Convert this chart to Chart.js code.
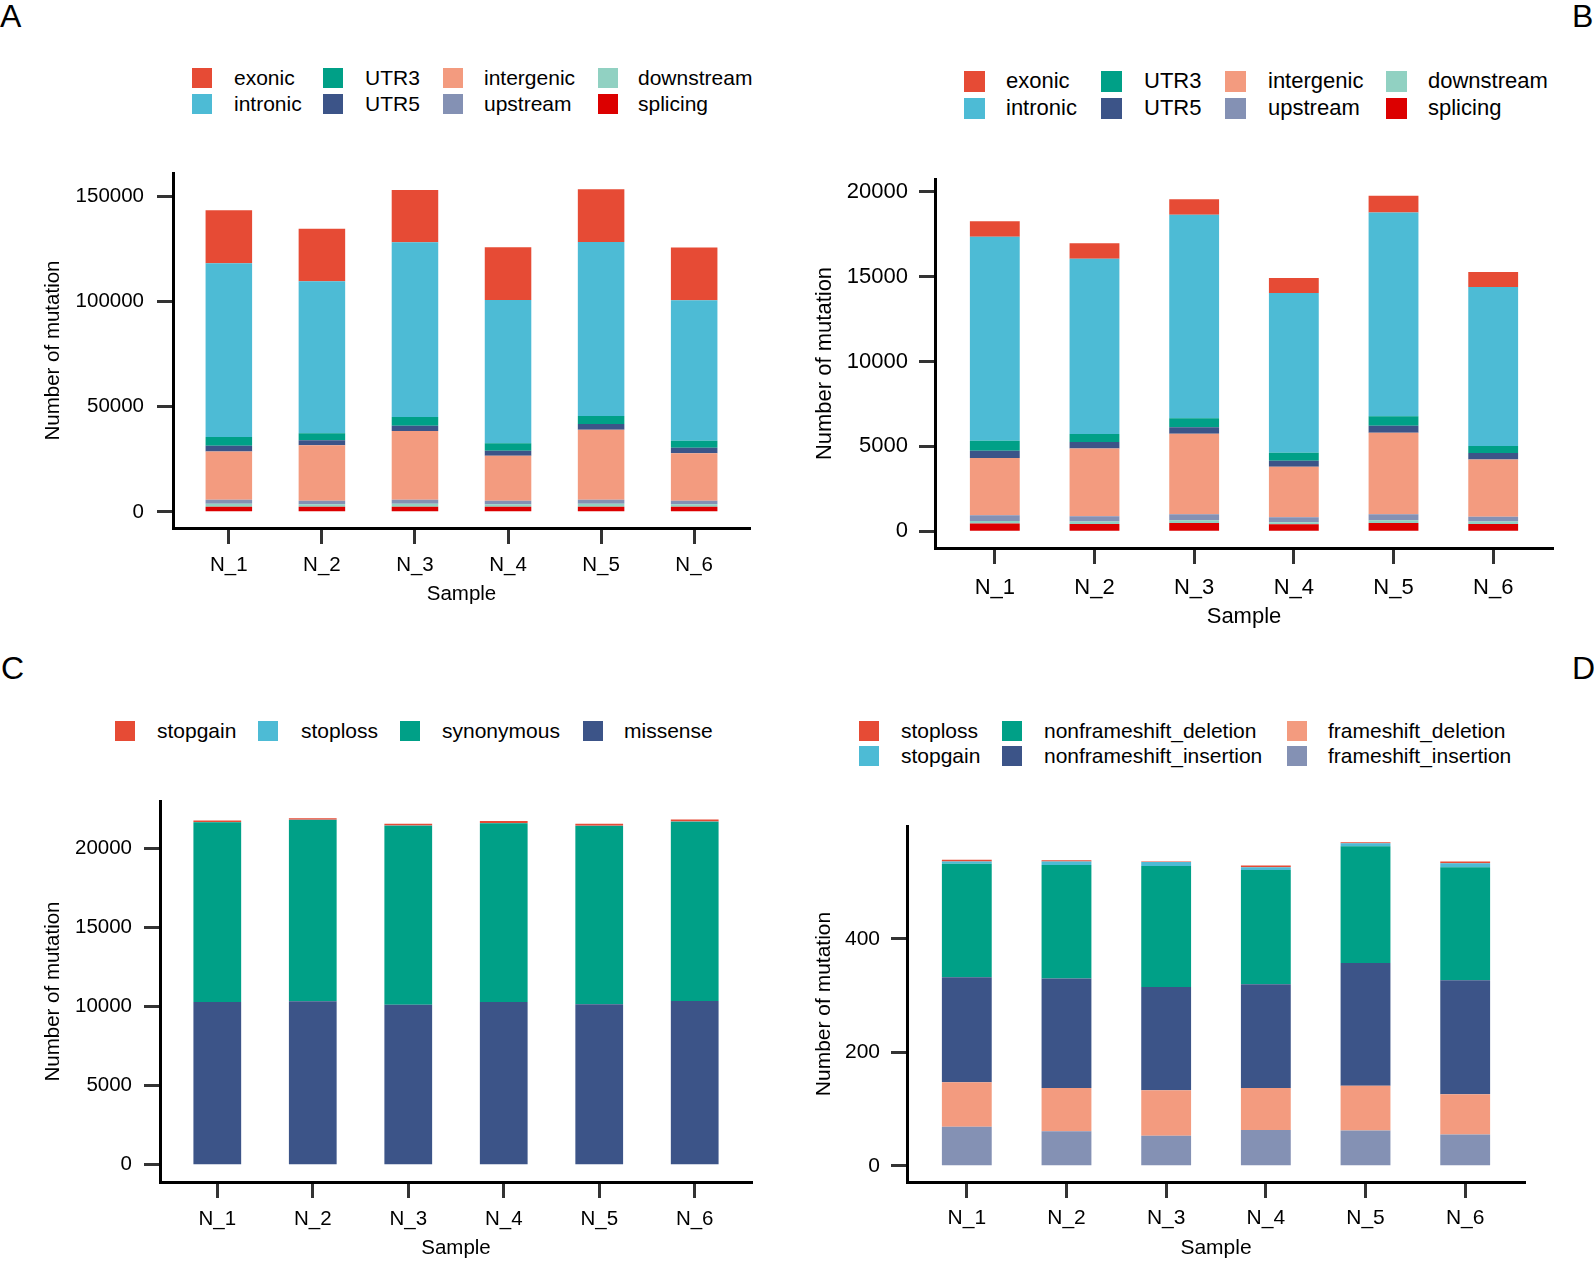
<!DOCTYPE html>
<html>
<head>
<meta charset="utf-8">
<script src="https://cdn.jsdelivr.net/npm/chart.js@4.4.1/dist/chart.umd.min.js"></script>
<style>
  body { margin: 0; background: #fff; }
  #page { position: relative; width: 1594px; height: 1278px; overflow: hidden;
          font-family: 'Liberation Sans', Arial, sans-serif; color: #000; }
  canvas { position: absolute; }
  .tag { position: absolute; font-size: 32px; line-height: 32px; }
  .key { position: absolute; }
  .lab { position: absolute; white-space: nowrap; }
</style>
</head>
<body>
<div id="page">
  <div class="tag" style="left:0px; top:0px;">A</div>
  <div class="tag" style="left:1572px; top:0px;">B</div>
  <div class="tag" style="left:1px; top:652px;">C</div>
  <div class="tag" style="left:1572px; top:652px;">D</div>
  <canvas id="chartA"></canvas>
  <canvas id="chartB"></canvas>
  <canvas id="chartC"></canvas>
  <canvas id="chartD"></canvas>
</div>
<script>
// samples on the x axis
const samples = ['N_1', 'N_2', 'N_3', 'N_4', 'N_5', 'N_6'];

// ggsci npg palette
const npg = ['#E64B35', '#4DBBD5', '#00A087', '#3C5488', '#F39B7F', '#8491B4', '#91D1C2', '#DC0000'];

// A: all variants by region
const regionNames = ['exonic', 'intronic', 'UTR3', 'UTR5', 'intergenic', 'upstream', 'downstream', 'splicing'];
const aExonic     = [25300, 25000, 24900, 25000, 25100, 25100];
const aIntronic   = [82650, 72250, 83130, 68110, 82850, 66800];
const aUTR3       = [4130, 3330, 4130, 3650, 3810, 3330];
const aUTR5       = [2690, 2380, 2530, 2380, 2700, 2540];
const aIntergenic = [23020, 26500, 32700, 21420, 33330, 22690];
const aUpstream   = [1900, 1590, 1900, 1590, 1900, 1590];
const aDownstream = [1430, 1270, 1430, 1270, 1430, 1270];
const aSplicing   = [2380, 2380, 2380, 2380, 2380, 2380];
const aTicks = [0, 50000, 100000, 150000];

// B: indels by region
const bExonic     = [910, 910, 910, 890, 980, 890];
const bIntronic   = [12030, 10330, 11990, 9410, 12010, 9370];
const bUTR3       = [590, 470, 530, 470, 570, 410];
const bUTR5       = [430, 390, 390, 360, 410, 390];
const bIntergenic = [3370, 3980, 4740, 2970, 4800, 3370];
const bUpstream   = [330, 320, 350, 300, 350, 280];
const bDownstream = [160, 140, 160, 120, 160, 140];
const bSplicing   = [450, 430, 490, 410, 490, 430];
const bTicks = [0, 5000, 10000, 15000, 20000];

// C: exonic SNV function
const snvNames = ['stopgain', 'stoploss', 'synonymous', 'missense'];
const cStopgain   = [105, 90, 105, 125, 125, 125];
const cStoploss   = [15, 15, 15, 15, 15, 15];
const cSynonymous = [11370, 11480, 11330, 11310, 11290, 11350];
const cMissense   = [10300, 10340, 10130, 10300, 10150, 10360];
const cTicks = [0, 5000, 10000, 15000, 20000];

// D: exonic indel function
const indelNames = ['stoploss', 'stopgain', 'nonframeshift_deletion', 'nonframeshift_insertion',
                    'frameshift_deletion', 'frameshift_insertion'];
const dStoploss = [3, 2, 1, 3, 2, 3];
const dStopgain = [4, 6, 7, 5, 5, 7];
const dNfDel    = [200, 200, 213, 201, 206, 199];
const dNfIns    = [185, 193, 182, 183, 216, 201];
const dFsDel    = [78, 76, 80, 74, 79, 71];
const dFsIns    = [69, 61, 53, 63, 62, 55];
const dTicks = [0, 200, 400];

Chart.defaults.font.family = "'Liberation Sans', Arial, sans-serif";
Chart.defaults.color = '#000';

const page = document.getElementById('page');

function addLegend(names, colors, lay) {
  names.forEach((name, i) => {
    const col = Math.floor(i / lay.rows.length);
    const cy = lay.rows[i % lay.rows.length];
    const key = document.createElement('div');
    key.className = 'key';
    key.style.left = lay.keys[col] + 'px';
    key.style.top = (cy - lay.box / 2) + 'px';
    key.style.width = lay.box + 'px';
    key.style.height = lay.box + 'px';
    key.style.background = colors[i];
    page.appendChild(key);
    const lab = document.createElement('div');
    lab.className = 'lab';
    lab.textContent = name;
    lab.style.left = lay.texts[col] + 'px';
    lab.style.top = (cy - lay.size * 0.6) + 'px';
    lab.style.fontSize = lay.size + 'px';
    lab.style.lineHeight = (lay.size * 1.2) + 'px';
    page.appendChild(lab);
  });
}

function addChart(id, box, names, counts, yTicks) {
  const canvas = document.getElementById(id);
  canvas.width = box.w;
  canvas.height = box.h;
  canvas.style.left = box.x + 'px';
  canvas.style.top = box.y + 'px';

  const totals = samples.map((_, j) => counts.reduce((s, row) => s + row[j], 0));
  const peak = Math.max(...totals);
  const f = box.font;

  // first dataset sits at the bottom of the stack
  const datasets = names.map((name, k) => ({
    label: name,
    data: counts[k].map((v, j) => ({ x: j, y: v })),
    backgroundColor: npg[k],
    borderWidth: 0,
    barPercentage: 0.5,
    categoryPercentage: 1
  })).reverse();

  const grid = { drawOnChartArea: false, drawTicks: true, tickLength: 16, tickWidth: 3, tickColor: '#333', offset: false };
  const border = { display: true, color: '#000', width: 3 };

  return new Chart(canvas.getContext('2d'), {
    type: 'bar',
    data: { datasets: datasets },
    options: {
      responsive: false,
      animation: false,
      layout: { padding: { top: box.pt, right: box.pr, bottom: 0, left: 0 } },
      plugins: { legend: { display: false }, tooltip: { enabled: false } },
      scales: {
        x: {
          type: 'linear',
          stacked: true,
          offset: false,
          min: -0.6,
          max: samples.length - 0.4,
          afterBuildTicks: s => { s.ticks = samples.map((_, j) => ({ value: j })); },
          afterFit: s => { s.height = box.xh; },
          ticks: { callback: v => samples[v], font: { size: f }, padding: box.xpad, autoSkip: false, maxRotation: 0 },
          grid: grid,
          border: border,
          title: { display: true, text: 'Sample', font: { size: f }, padding: { top: 0, bottom: box.xtp } }
        },
        y: {
          stacked: true,
          min: -0.05 * peak,
          max: 1.05 * peak,
          afterBuildTicks: s => { s.ticks = yTicks.map(v => ({ value: v })); },
          afterFit: s => { s.width = box.yw; },
          ticks: { callback: v => String(v), font: { size: f }, padding: box.ypad },
          grid: grid,
          border: border,
          title: { display: true, text: 'Number of mutation', font: { size: f }, padding: { top: box.ytp, bottom: 0 } }
        }
      }
    }
  });
}

addLegend(regionNames, npg, { keys: [192, 323, 443, 598], texts: [234, 365, 484, 638], rows: [78, 104], box: 20, size: 21 });
addLegend(regionNames, npg, { keys: [964, 1101, 1225, 1386], texts: [1006, 1144, 1268, 1428], rows: [81, 108], box: 21, size: 22 });
addLegend(snvNames, npg, { keys: [115, 258, 400, 583], texts: [157, 301, 442, 624], rows: [731], box: 20, size: 21 });
addLegend(indelNames, npg, { keys: [859, 1002, 1287], texts: [901, 1044, 1328], rows: [731, 756], box: 20, size: 21 });

addChart('chartA', { x: 0, y: 140, w: 770, h: 468, pt: 33, pr: 20, yw: 173, xh: 80, font: 20.5, xpad: 9, xtp: 1, ypad: 13, ytp: 41 },
  regionNames, [aExonic, aIntronic, aUTR3, aUTR5, aIntergenic, aUpstream, aDownstream, aSplicing], aTicks);
addChart('chartB', { x: 780, y: 140, w: 814, h: 490, pt: 39, pr: 41, yw: 155, xh: 82, font: 22, xpad: 11, xtp: 0, ypad: 11, ytp: 32 },
  regionNames, [bExonic, bIntronic, bUTR3, bUTR5, bIntergenic, bUpstream, bDownstream, bSplicing], bTicks);
addChart('chartC', { x: 0, y: 770, w: 770, h: 492, pt: 31, pr: 18, yw: 160, xh: 80, font: 20.5, xpad: 9, xtp: 1, ypad: 12, ytp: 41 },
  snvNames, [cStopgain, cStoploss, cSynonymous, cMissense], cTicks);
addChart('chartD', { x: 780, y: 770, w: 814, h: 492, pt: 56, pr: 69, yw: 127, xh: 80, font: 21, xpad: 8, xtp: 1, ypad: 11, ytp: 32 },
  indelNames, [dStoploss, dStopgain, dNfDel, dNfIns, dFsDel, dFsIns], dTicks);
</script>
</body>
</html>
